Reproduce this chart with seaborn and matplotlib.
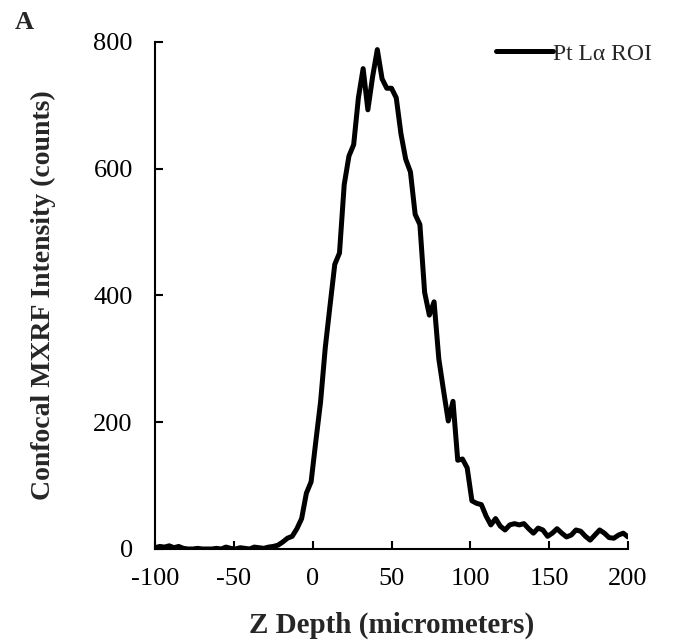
import numpy as np
import pandas as pd
import matplotlib
matplotlib.use("Agg")
import matplotlib.pyplot as plt
import seaborn as sns

# Z depth scan, 3 micrometer steps from -100 to 200
z_depth = np.arange(-100, 201, 3)

# Pt L-alpha ROI counts
counts = [
    2, 4, 3, 5, 2, 4, 1, 0, 0, 1,
    0, 0, 0, 1, 0, 3, 1, 0, 2, 1,
    0, 3, 2, 1, 3, 4, 6, 11, 17, 20,
    32, 48, 88, 106, 170, 232, 318, 384, 449, 467,
    575, 620, 638, 712, 758, 693, 745, 788, 742, 727,
    727, 712, 655, 615, 595, 528, 512, 405, 369, 390,
    300, 250, 202, 233, 140, 142, 128, 76, 72, 70,
    52, 38, 48, 36, 30, 38, 40, 38, 40, 32,
    25, 33, 30, 20, 25, 32, 25, 19, 22, 30,
    28, 20, 14, 22, 30, 25, 18, 17, 22, 25,
    19,
]

series_label = "Pt L\u03b1 ROI"
x_ticks = [-100, -50, 0, 50, 100, 150, 200]
y_ticks = [0, 200, 400, 600, 800]

df = pd.DataFrame({"z": z_depth, "counts": counts})

sns.set_style("ticks")
plt.rcParams["font.family"] = ["Liberation Serif", "DejaVu Serif"]
plt.rcParams["axes.unicode_minus"] = False

fig = plt.figure(figsize=(6.79, 6.43), dpi=100)
ax = fig.add_axes([0.2283, 0.1462, 0.6966, 0.7885])

sns.lineplot(data=df, x="z", y="counts", color="black", linewidth=3.6,
             label=series_label, ax=ax)

ax.set_xlim(-100, 200)
ax.set_ylim(0, 800)
ax.set_xticks(x_ticks)
ax.set_yticks(y_ticks)
ax.tick_params(direction="in", length=6, width=1.5, labelsize=19, colors="black")
ax.tick_params(axis="x", pad=14)
ax.tick_params(axis="y", pad=16)
for side in ["top", "right"]:
    ax.spines[side].set_visible(False)
for side in ["left", "bottom"]:
    ax.spines[side].set_linewidth(1.5)
    ax.spines[side].set_color("black")

ax.set_xlabel("Z Depth (micrometers)", fontsize=21, fontweight="bold", labelpad=15)
ax.set_ylabel("Confocal MXRF Intensity (counts)", fontsize=20, fontweight="bold", labelpad=27)

ax.legend(loc="upper right", bbox_to_anchor=(1.05, 0.998), frameon=False,
          fontsize=17, handlelength=2.4, handletextpad=0.0,
          borderpad=0.0, borderaxespad=0.0)

fig.text(0.022, 0.955, "A", fontsize=19, fontweight="bold")

fig.savefig("out.png", dpi=100)
plt.close(fig)
